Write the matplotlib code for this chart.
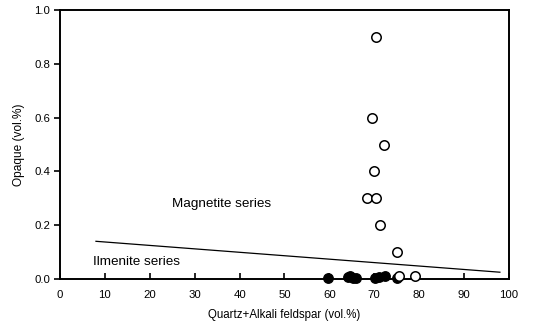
import matplotlib
matplotlib.use("Agg")
import matplotlib.pyplot as plt

plt.rcParams['font.family'] = ['Liberation Sans', 'DejaVu Sans']

# Magnetite-series samples (open circles)
mag_x = [70.5, 69.5, 72.2, 70.0, 68.5, 70.3, 71.2, 75.0, 75.5, 79.0]
mag_y = [0.90, 0.60, 0.50, 0.40, 0.30, 0.30, 0.20, 0.10, 0.01, 0.01]

# Ilmenite-series samples (filled circles)
ilm_x = [59.7, 64.2, 64.6, 65.3, 66.0, 70.2, 71.0, 72.3, 75.0]
ilm_y = [0.003, 0.006, 0.012, 0.005, 0.002, 0.003, 0.006, 0.012, 0.002]

# Boundary between the two series
bound_x = [8, 98]
bound_y = [0.14, 0.025]

x_ticks = [0, 10, 20, 30, 40, 50, 60, 70, 80, 90, 100]
y_ticks = [0.0, 0.2, 0.4, 0.6, 0.8, 1.0]

fig = plt.figure(figsize=(5.46, 3.27), dpi=100)
ax = fig.add_axes([0.110, 0.147, 0.822, 0.822])

ax.plot(bound_x, bound_y, color='black', lw=0.9)
ax.plot(ilm_x, ilm_y, 'o', ms=6.8, mfc='black', mec='black', clip_on=False, zorder=3)
ax.plot(mag_x, mag_y, 'o', ms=6.8, mfc='white', mec='black', mew=1.1, clip_on=False, zorder=4)

ax.set_xlim(0, 100)
ax.set_ylim(0, 1.0)
ax.set_xticks(x_ticks)
ax.set_yticks(y_ticks)
ax.set_yticklabels([f"{v:.1f}" for v in y_ticks])
ax.tick_params(axis='x', direction='in', length=4, width=1.2, labelsize=8.2, pad=8)
ax.tick_params(axis='y', direction='out', length=4, width=1.2, labelsize=8.2, pad=3)
for s in ax.spines.values():
    s.set_linewidth(1.4)

ax.set_xlabel('Quartz+Alkali feldspar (vol.%)', fontsize=8.3, labelpad=6.5)
ax.set_ylabel('Opaque (vol.%)', fontsize=8.6, labelpad=7)

ax.text(25.0, 0.277, 'Magnetite series', fontsize=9.7, va='center', ha='left')
ax.text(7.3, 0.063, 'Ilmenite series', fontsize=9.7, va='center', ha='left')

fig.savefig('out.png', dpi=100)
